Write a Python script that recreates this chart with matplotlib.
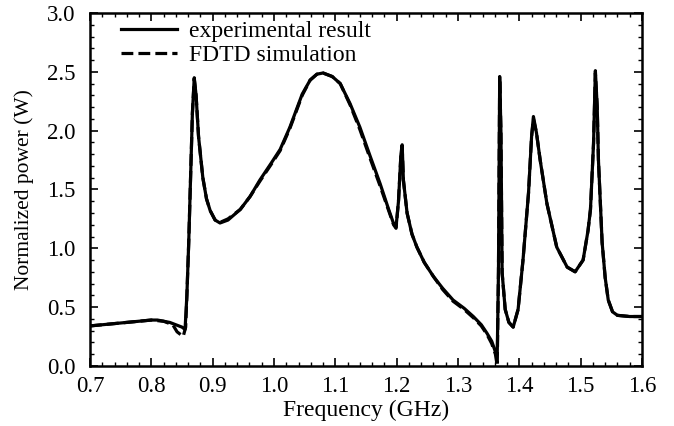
import matplotlib
matplotlib.use("Agg")
import matplotlib.pyplot as plt
from matplotlib.ticker import MultipleLocator

freq_exp = [0.700, 0.720, 0.740, 0.760, 0.780, 0.800, 0.810, 0.820, 0.830, 0.840,
            0.850, 0.855, 0.858, 0.861, 0.864, 0.867, 0.870, 0.873, 0.877, 0.884,
            0.890, 0.896, 0.904, 0.912, 0.925, 0.945, 0.961, 0.977, 0.995, 1.010,
            1.026, 1.036, 1.046, 1.059, 1.070, 1.080, 1.095, 1.108, 1.124, 1.140,
            1.157, 1.173, 1.187, 1.195, 1.199, 1.203, 1.207, 1.209, 1.211, 1.217,
            1.225, 1.233, 1.245, 1.260, 1.275, 1.292, 1.310, 1.325, 1.338, 1.347,
            1.355, 1.361, 1.364, 1.366, 1.368, 1.370, 1.372, 1.377, 1.383, 1.390,
            1.398, 1.406, 1.415, 1.420, 1.423, 1.428, 1.434, 1.445, 1.461, 1.478,
            1.491, 1.504, 1.512, 1.516, 1.521, 1.524, 1.527, 1.529, 1.535, 1.540,
            1.545, 1.552, 1.560, 1.580, 1.600]
power_exp = [0.34, 0.35, 0.36, 0.37, 0.38, 0.39, 0.39, 0.38, 0.37, 0.35,
             0.33, 0.31, 0.60, 1.05, 1.60, 2.15, 2.45, 2.30, 1.95, 1.60,
             1.42, 1.32, 1.24, 1.215, 1.24, 1.33, 1.44, 1.58, 1.72, 1.84,
             2.03, 2.17, 2.31, 2.43, 2.48, 2.49, 2.46, 2.40, 2.23, 2.03,
             1.78, 1.55, 1.33, 1.21, 1.18, 1.40, 1.80, 1.88, 1.58, 1.30,
             1.12, 1.01, 0.88, 0.76, 0.66, 0.56, 0.49, 0.42, 0.35, 0.28,
             0.21, 0.12, 0.10, 0.80, 2.46, 2.00, 0.79, 0.48, 0.37, 0.33,
             0.48, 0.90, 1.47, 1.95, 2.12, 1.98, 1.75, 1.38, 1.01, 0.84,
             0.80, 0.90, 1.15, 1.33, 1.89, 2.51, 2.20, 1.75, 1.05, 0.75,
             0.56, 0.46, 0.43, 0.42, 0.42]

# FDTD simulation
freq_sim = [0.700, 0.740, 0.780, 0.800, 0.820, 0.835, 0.842, 0.852, 0.856, 0.858,
            0.861, 0.864, 0.867, 0.870, 0.873, 0.877, 0.884, 0.890, 0.896, 0.904,
            0.912, 0.925, 0.945, 0.961, 0.977, 0.995, 1.010, 1.026, 1.036, 1.046,
            1.059, 1.070, 1.080, 1.095, 1.108, 1.124, 1.140, 1.157, 1.173, 1.187,
            1.195, 1.199, 1.203, 1.207, 1.209, 1.211, 1.217, 1.225, 1.233, 1.245,
            1.260, 1.275, 1.292, 1.310, 1.325, 1.338, 1.347, 1.355, 1.361, 1.364,
            1.366, 1.368, 1.370, 1.372, 1.377, 1.383, 1.390, 1.398, 1.406, 1.415,
            1.420, 1.423, 1.428, 1.434, 1.445, 1.461, 1.478, 1.491, 1.504, 1.512,
            1.516, 1.521, 1.524, 1.527, 1.529, 1.535, 1.540, 1.545, 1.552, 1.560,
            1.580, 1.600]
power_sim = [0.34, 0.36, 0.38, 0.39, 0.38, 0.35, 0.29, 0.25, 0.33, 0.60,
             1.05, 1.60, 2.15, 2.44, 2.30, 1.95, 1.60, 1.42, 1.32, 1.24,
             1.22, 1.25, 1.33, 1.44, 1.57, 1.71, 1.83, 2.02, 2.16, 2.30,
             2.43, 2.48, 2.49, 2.46, 2.40, 2.22, 2.01, 1.76, 1.53, 1.32,
             1.20, 1.17, 1.40, 1.80, 1.86, 1.58, 1.30, 1.12, 1.01, 0.88,
             0.76, 0.65, 0.55, 0.48, 0.41, 0.34, 0.27, 0.19, 0.10, 0.00,
             0.80, 2.44, 2.00, 0.79, 0.48, 0.37, 0.33, 0.48, 0.90, 1.47,
             1.95, 2.10, 1.98, 1.75, 1.38, 1.01, 0.84, 0.80, 0.90, 1.15,
             1.33, 1.89, 2.49, 2.20, 1.75, 1.05, 0.75, 0.56, 0.46, 0.43,
             0.42, 0.42]

plt.rcParams['font.family'] = ['Liberation Serif', 'DejaVu Serif']

fig = plt.figure(figsize=(6.74, 4.26), dpi=100)
ax = fig.add_axes([0.1335, 0.141, 0.819, 0.8285])

ax.plot(freq_sim, power_sim, color='black', lw=2.3, ls='--', label='FDTD simulation')
ax.plot(freq_exp, power_exp, color='black', lw=2.3, ls='-', label='experimental result')

ax.set_xlim(0.7, 1.6)
ax.set_ylim(0.0, 3.0)
ax.xaxis.set_major_locator(MultipleLocator(0.1))
ax.xaxis.set_minor_locator(MultipleLocator(0.02))
ax.yaxis.set_major_locator(MultipleLocator(0.5))
ax.yaxis.set_minor_locator(MultipleLocator(0.1))
ax.tick_params(which='both', direction='in', top=True, right=True, labelsize=16.5)
ax.tick_params(which='major', length=6, width=1.2)
ax.tick_params(which='minor', length=3, width=1.0)
ax.tick_params(axis='x', which='major', pad=7.5)
ax.tick_params(axis='y', which='major', pad=10.5)
ax.xaxis.set_major_formatter(plt.FuncFormatter(lambda v, p: f"{v:.1f}"))
ax.yaxis.set_major_formatter(plt.FuncFormatter(lambda v, p: f"{v:.1f}"))
for s in ax.spines.values():
    s.set_linewidth(1.8)

ax.set_xlabel('Frequency (GHz)', fontsize=17, labelpad=2)
ax.set_ylabel('Normalized power (W)', fontsize=15.5, labelpad=9)

h, l = ax.get_legend_handles_labels()
ax.legend(h[::-1], l[::-1], loc='upper left', bbox_to_anchor=(0.03, 1.018),
          frameon=False, fontsize=17, handlelength=2.4, handletextpad=0.5,
          labelspacing=0.1, borderaxespad=0.2)

fig.savefig('out.png', dpi=100)
